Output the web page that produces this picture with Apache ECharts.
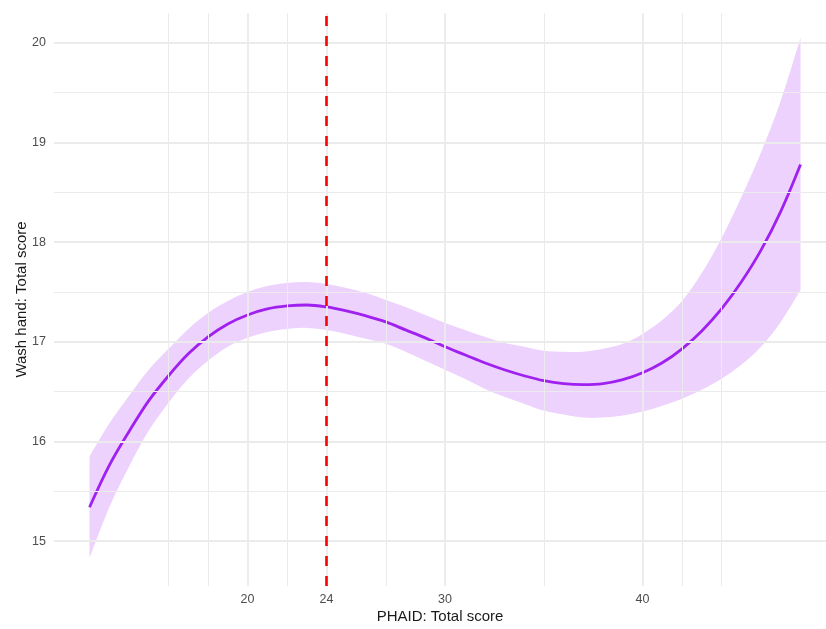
<!DOCTYPE html>
<html>
<head>
<meta charset="utf-8">
<script src="https://cdn.jsdelivr.net/npm/echarts@6/dist/echarts.min.js"></script>
<style>
html,body{margin:0;padding:0;background:#fff;}
#chart{width:826px;height:629px;}
</style>
</head>
<body>
<div id="chart"></div>
<script>
// PHAID total score (x) values
var xs = [12,13,14,15,16,17,18,19,20,21,22,23,24,25,26,27,28,29,30,31,32,33,34,35,36,37,38,39,40,41,42,43,44,45,46,47,48];
// fitted wash-hand total score
var fit = [15.34,15.76,16.10,16.41,16.66,16.88,17.05,17.18,17.27,17.33,17.36,17.37,17.35,17.31,17.26,17.20,17.12,17.04,16.95,16.87,16.79,16.72,16.66,16.61,16.58,16.57,16.58,16.62,16.69,16.79,16.93,17.11,17.33,17.60,17.92,18.31,18.78];
// confidence band
var lower = [14.83,15.34,15.75,16.11,16.39,16.63,16.81,16.95,17.04,17.10,17.13,17.14,17.12,17.08,17.03,16.98,16.90,16.81,16.72,16.63,16.53,16.45,16.38,16.31,16.27,16.24,16.24,16.26,16.30,16.36,16.43,16.52,16.63,16.77,16.95,17.20,17.52];
var upper = [15.85,16.18,16.46,16.72,16.93,17.13,17.29,17.41,17.50,17.56,17.59,17.60,17.58,17.54,17.49,17.42,17.35,17.27,17.19,17.12,17.05,16.99,16.95,16.91,16.90,16.90,16.93,16.98,17.08,17.22,17.41,17.69,18.04,18.45,18.90,19.42,20.05];
// axis ticks and gridlines
var xTickLabels = [20,24,30,40];
var xMajorGrid = [20,24,30,40];
var xMinorGrid = [16,18,22,27,35,42,44];
var yTickLabels = [15,16,17,18,19,20];
var yMinorGrid = [15.5,16.5,17.5,18.5,19.5];
var cutoff = 24;

var X_MIN = 10.2, X_MAX = 49.29, Y_MIN = 14.55, Y_MAX = 20.3;
var FONT = "'Liberation Sans', Arial, Helvetica, sans-serif";
var gridColor = '#EBEBEB';

var chart = echarts.init(document.getElementById('chart'), null, {renderer:'canvas'});

function vLines(vals, w) {
  return vals.map(function(v){ return {xAxis: v, lineStyle:{width:w, color:gridColor, type:'solid'}}; });
}
function hLines(vals, w) {
  return vals.map(function(v){ return {yAxis: v, lineStyle:{width:w, color:gridColor, type:'solid'}}; });
}

// Catmull-Rom spline through pixel points -> path commands
function splinePath(pts, moveFirst) {
  var d = '';
  var n = pts.length;
  d += (moveFirst ? 'M' : 'L') + pts[0][0] + ' ' + pts[0][1];
  for (var i = 0; i < n - 1; i++) {
    var p0 = pts[Math.max(i - 1, 0)], p1 = pts[i], p2 = pts[i + 1], p3 = pts[Math.min(i + 2, n - 1)];
    var c1x = p1[0] + (p2[0] - p0[0]) / 6, c1y = p1[1] + (p2[1] - p0[1]) / 6;
    var c2x = p2[0] - (p3[0] - p1[0]) / 6, c2y = p2[1] - (p3[1] - p1[1]) / 6;
    d += 'C' + c1x + ' ' + c1y + ' ' + c2x + ' ' + c2y + ' ' + p2[0] + ' ' + p2[1];
  }
  return d;
}

var option = {
  animation: false,
  backgroundColor: '#ffffff',
  grid: {left: 54, top: 13, right: 0, height: 575, containLabel: false},
  xAxis: {
    type: 'value', min: X_MIN, max: X_MAX,
    name: 'PHAID: Total score', nameLocation: 'middle', nameGap: 23, nameMoveOverlap: false,
    nameTextStyle: {fontFamily: FONT, fontSize: 15, color: '#1a1a1a'},
    axisLine: {show:false}, axisTick: {show:false}, splitLine: {show:false},
    axisLabel: {customValues: xTickLabels, fontFamily: FONT, fontSize: 12.5, color: '#4D4D4D', margin: 7}
  },
  yAxis: {
    type: 'value', min: Y_MIN, max: Y_MAX,
    name: 'Wash hand: Total score', nameLocation: 'middle', nameGap: 25, nameRotate: 90, nameMoveOverlap: false,
    nameTextStyle: {fontFamily: FONT, fontSize: 15, color: '#1a1a1a'},
    axisLine: {show:false}, axisTick: {show:false}, splitLine: {show:false},
    axisLabel: {customValues: yTickLabels, fontFamily: FONT, fontSize: 12.5, color: '#4D4D4D', margin: 8}
  },
  series: [
    {
      name: 'grid', type: 'line', data: [], z: 0, silent: true,
      markLine: {
        silent: true, symbol: ['none','none'], label: {show:false}, animation:false,
        emphasis: {disabled: true},
        data: [].concat(vLines(xMinorGrid, 1), hLines(yMinorGrid, 1), vLines(xMajorGrid, 1.8), hLines(yTickLabels, 1.8))
      }
    },
    {
      name: 'band', type: 'custom', z: 1, silent: true,
      data: [[xs[0], upper[0]]],
      renderItem: function(params, api) {
        if (params.dataIndex !== 0) return null;
        var up = [], lo = [];
        for (var i = 0; i < xs.length; i++) up.push(api.coord([xs[i], upper[i]]));
        for (var j = xs.length - 1; j >= 0; j--) lo.push(api.coord([xs[j], lower[j]]));
        var d = splinePath(up, true) + splinePath(lo, false) + 'Z';
        return {type: 'path', shape: {pathData: d}, style: {fill: 'rgba(160,32,240,0.2)'}};
      }
    },
    {
      name: 'fit', type: 'line', z: 2, silent: true,
      data: xs.map(function(x, i){ return [x, fit[i]]; }),
      smooth: 0.35, showSymbol: false, symbol: 'none',
      lineStyle: {color: '#A020F0', width: 2.8}
    },
    {
      name: 'cutoff', type: 'line', data: [], z: 3, silent: true,
      markLine: {
        silent: true, symbol: ['none','none'], label: {show:false}, animation:false,
        data: [[{coord: [cutoff, Y_MIN]}, {coord: [cutoff, Y_MAX]}]],
        lineStyle: {color: '#FF0000', width: 2.6, type: [10, 10]}
      }
    }
  ]
};
chart.setOption(option);
</script>
</body>
</html>
